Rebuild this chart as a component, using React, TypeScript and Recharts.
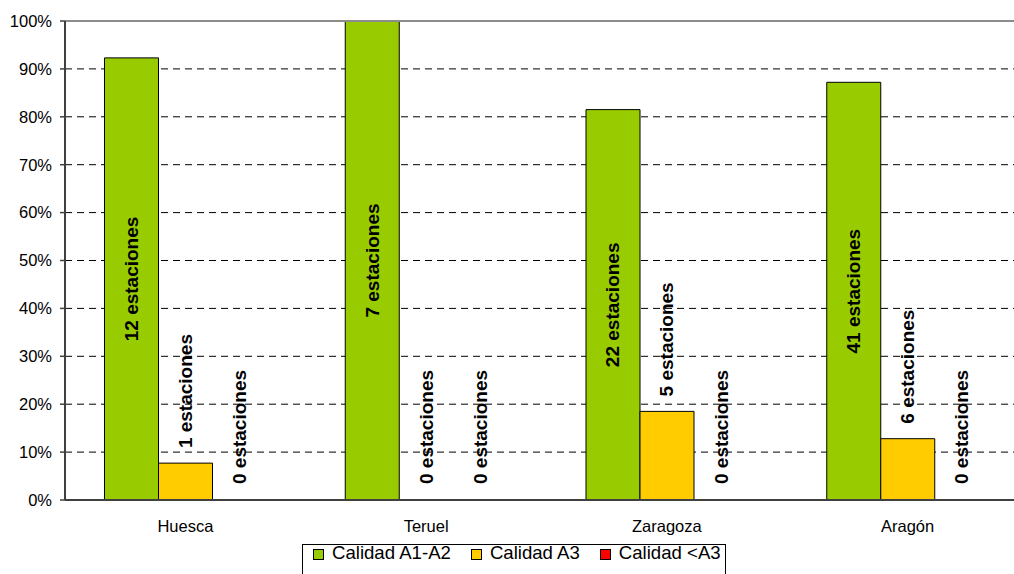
import React from 'react';
import { BarChart, Bar, XAxis, YAxis, CartesianGrid, LabelList, ReferenceLine, Rectangle } from 'recharts';

const categories = ['Huesca', 'Teruel', 'Zaragoza', 'Aragón'];
const pctA1A2 = [92.3, 100, 81.5, 87.2];
const pctA3 = [7.7, 0, 18.5, 12.8];
const pctBelowA3 = [0, 0, 0, 0];
const countA1A2 = [12, 7, 22, 41];
const countA3 = [1, 0, 5, 6];
const countBelowA3 = [0, 0, 0, 0];
const yTicks = [0, 10, 20, 30, 40, 50, 60, 70, 80, 90, 100];
const boundaryTicks = [0, 1, 2, 3, 4];

const seriesNames = ['Calidad A1-A2', 'Calidad A3', 'Calidad <A3'];
const seriesColors = ['#99CC00', '#FFCC00', '#FF0000'];

const data = categories.map((c, i) => ({
  name: c,
  a: pctA1A2[i],
  b: pctA3[i],
  c: pctBelowA3[i],
  an: countA1A2[i],
  bn: countA3[i],
  cn: countBelowA3[i],
}));

const FONT = '"Liberation Sans", Arial, sans-serif';

const CenterLabel = (props: any) => {
  const { x, y, width, height, value } = props;
  const cx = Number(x) + Number(width) / 2;
  const cy = Number(y) + Number(height) / 2;
  return (
    <text
      x={cx}
      y={cy}
      transform={`rotate(-90 ${cx} ${cy})`}
      textAnchor="middle"
      dominantBaseline="central"
      fontFamily={FONT}
      fontWeight="bold"
      fontSize={19}
      fill="#000"
    >
      {`${value} estaciones`}
    </text>
  );
};

const OutsideLabel = (props: any) => {
  const { x, y, width, value } = props;
  const cx = Number(x) + Number(width) / 2;
  const ty = Number(y) - 15;
  return (
    <text
      x={cx}
      y={ty}
      transform={`rotate(-90 ${cx} ${ty})`}
      textAnchor="start"
      dominantBaseline="central"
      fontFamily={FONT}
      fontWeight="bold"
      fontSize={19}
      fill="#000"
    >
      {`${value} estaciones`}
    </text>
  );
};

const makeShape = (key: string) => (props: any) => {
  const v = props.payload ? props.payload[key] : 0;
  if (!v) return <g />;
  return <Rectangle {...props} />;
};

export default function App() {
  return (
    <div
      style={{
        position: 'absolute',
        left: 0,
        top: 0,
        width: 1014,
        height: 574,
        overflow: 'hidden',
        background: '#fff',
        fontFamily: FONT,
      }}
    >
      <BarChart
        width={1040}
        height={574}
        data={data}
        margin={{ top: 21, right: 12, bottom: 0, left: 0 }}
        barCategoryGap={39.5}
        barGap={0}
      >
        <CartesianGrid vertical={false} stroke="#000" strokeDasharray="7 5" />
        <ReferenceLine y={100} stroke="#8c8c8c" strokeWidth={2} />
        <XAxis
          xAxisId="bounds"
          type="number"
          dataKey="none"
          domain={[0, 4]}
          ticks={boundaryTicks}
          allowDataOverflow
          height={0}
          axisLine={false}
          tick={false}
          tickLine={{ stroke: '#404040', strokeWidth: 1.5 }}
          tickSize={5}
        />
        <XAxis
          dataKey="name"
          height={74}
          tickLine={false}
          axisLine={{ stroke: '#404040', strokeWidth: 2 }}
          tick={{ fill: '#000', fontSize: 16.5, fontFamily: FONT }}
          tickMargin={14}
          interval={0}
        />
        <YAxis
          width={65}
          domain={[0, 100]}
          ticks={yTicks}
          tickFormatter={(v: number) => `${v}%`}
          axisLine={{ stroke: '#404040', strokeWidth: 2 }}
          tickLine={{ stroke: '#404040', strokeWidth: 1.5 }}
          tickSize={5}
          tickMargin={8}
          tick={{ fill: '#000', fontSize: 16.5, fontFamily: FONT }}
          allowDataOverflow
        />
        <Bar dataKey="a" name={seriesNames[0]} fill={seriesColors[0]} stroke="#000" strokeWidth={1} isAnimationActive={false}>
          <LabelList dataKey="an" content={CenterLabel} />
        </Bar>
        <Bar
          dataKey="b"
          name={seriesNames[1]}
          fill={seriesColors[1]}
          stroke="#000"
          strokeWidth={1}
          minPointSize={1}
          shape={makeShape('b')}
          isAnimationActive={false}
        >
          <LabelList dataKey="bn" content={OutsideLabel} />
        </Bar>
        <Bar
          dataKey="c"
          name={seriesNames[2]}
          fill={seriesColors[2]}
          stroke="#000"
          strokeWidth={1}
          minPointSize={1}
          shape={makeShape('c')}
          isAnimationActive={false}
        >
          <LabelList dataKey="cn" content={OutsideLabel} />
        </Bar>
      </BarChart>
      <div
        style={{
          position: 'absolute',
          left: 302,
          top: 544,
          width: 424,
          height: 40,
          border: '1px solid #000',
          boxSizing: 'border-box',
          display: 'flex',
          alignItems: 'flex-start',
          fontSize: 18.6,
          lineHeight: '14px',
          paddingTop: 1,
          color: '#000',
        }}
      >
        {seriesNames.map((n, i) => (
          <div key={n} style={{ display: 'flex', alignItems: 'center', marginLeft: i === 0 ? 10 : 20 }}>
            <span
              style={{
                display: 'inline-block',
                width: 9,
                height: 9,
                background: seriesColors[i],
                border: '1px solid #000',
                marginRight: 8,
                marginTop: 3,
              }}
            />
            <span>{n}</span>
          </div>
        ))}
      </div>
    </div>
  );
}
